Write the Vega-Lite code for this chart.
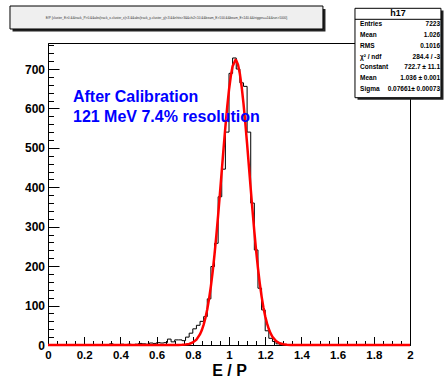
{
  "$schema": "https://vega.github.io/schema/vega-lite/v6.json",
  "width": 362,
  "height": 302,
  "autosize": {"type": "none"},
  "padding": {"left": 48, "top": 43, "right": 37, "bottom": 32},
  "background": "white",
  "config": {
    "view": {"stroke": "black", "strokeWidth": 1},
    "axis": {
      "labelFont": "Liberation Sans", "labelFontWeight": "bold", "labelFontSize": 12, "labelColor": "black",
      "titleFont": "Liberation Sans", "titleFontWeight": "bold", "titleColor": "black",
      "domainColor": "black", "tickColor": "black", "grid": false, "labelOverlap": false
    }
  },
  "layer": [
    {
      "layer": [
        {
          "data": {"values": [
            {"x":0.01,"n":0},{"x":0.03,"n":0},{"x":0.05,"n":0},{"x":0.07,"n":0},{"x":0.09,"n":0},
            {"x":0.11,"n":0},{"x":0.13,"n":1},{"x":0.15,"n":0},{"x":0.17,"n":0},{"x":0.19,"n":0},
            {"x":0.21,"n":0},{"x":0.23,"n":1},{"x":0.25,"n":0},{"x":0.27,"n":0},{"x":0.29,"n":0},
            {"x":0.31,"n":1},{"x":0.33,"n":0},{"x":0.35,"n":3},{"x":0.37,"n":1},{"x":0.39,"n":0},
            {"x":0.41,"n":2},{"x":0.43,"n":1},{"x":0.45,"n":2},{"x":0.47,"n":1},{"x":0.49,"n":2},
            {"x":0.51,"n":4},{"x":0.53,"n":3},{"x":0.55,"n":2},{"x":0.57,"n":5},{"x":0.59,"n":4},
            {"x":0.61,"n":6},{"x":0.63,"n":5},{"x":0.65,"n":6},{"x":0.67,"n":15},{"x":0.69,"n":8},
            {"x":0.71,"n":13},{"x":0.73,"n":13},{"x":0.75,"n":11},{"x":0.77,"n":20},{"x":0.79,"n":30},
            {"x":0.81,"n":41},{"x":0.83,"n":50},{"x":0.85,"n":60},{"x":0.87,"n":72},{"x":0.89,"n":117},
            {"x":0.91,"n":199},{"x":0.93,"n":258},{"x":0.95,"n":376},{"x":0.97,"n":446},{"x":0.99,"n":540},
            {"x":1.01,"n":689},{"x":1.03,"n":728},{"x":1.05,"n":700},{"x":1.07,"n":665},{"x":1.09,"n":656},
            {"x":1.11,"n":540},{"x":1.13,"n":360},{"x":1.15,"n":241},{"x":1.17,"n":144},{"x":1.19,"n":89},
            {"x":1.21,"n":36},{"x":1.23,"n":17},{"x":1.25,"n":9},{"x":1.27,"n":3},{"x":1.29,"n":1},
            {"x":1.31,"n":1},{"x":1.33,"n":0},{"x":1.35,"n":0},{"x":1.37,"n":0},{"x":1.39,"n":0},
            {"x":1.41,"n":0},{"x":1.43,"n":0},{"x":1.45,"n":0},{"x":1.47,"n":0},{"x":1.49,"n":0},
            {"x":1.51,"n":0},{"x":1.53,"n":0},{"x":1.55,"n":0},{"x":1.57,"n":0},{"x":1.59,"n":0},
            {"x":1.61,"n":0},{"x":1.63,"n":0},{"x":1.65,"n":0},{"x":1.67,"n":0},{"x":1.69,"n":0},
            {"x":1.71,"n":0},{"x":1.73,"n":0},{"x":1.75,"n":0},{"x":1.77,"n":0},{"x":1.79,"n":0},
            {"x":1.81,"n":0},{"x":1.83,"n":0},{"x":1.85,"n":0},{"x":1.87,"n":0},{"x":1.89,"n":0},
            {"x":1.91,"n":0},{"x":1.93,"n":0},{"x":1.95,"n":0},{"x":1.97,"n":0},{"x":1.99,"n":0}
          ]},
          "mark": {"type": "line", "interpolate": "step", "color": "black", "strokeWidth": 1},
          "encoding": {
            "x": {"field": "x", "type": "quantitative",
              "scale": {"domain": [0, 2], "nice": false, "zero": false},
              "axis": {"orient": "bottom", "values": [0,0.2,0.4,0.6,0.8,1,1.2,1.4,1.6,1.8,2], "format": "~g",
                "labelFlush": false, "tickSize": -8.5, "labelPadding": 12.5, "labelFontSize": 11.5,
                "title": "E / P", "titleFontSize": 16, "titleBaseline": "alphabetic", "titlePadding": 14.5}},
            "y": {"field": "n", "type": "quantitative",
              "scale": {"domain": [0, 766], "nice": false, "zero": false},
              "axis": {"orient": "left", "values": [0,100,200,300,400,500,600,700], "format": "d",
                "tickSize": -11, "labelPadding": 14.5, "title": null}}
          }
        },
        {
          "data": {"values": [
            {"x":0,"f":0},{"x":0.7,"f":0},{"x":0.72,"f":0.1},{"x":0.74,"f":0.4},{"x":0.76,"f":1.1},
            {"x":0.78,"f":2.7},{"x":0.8,"f":6.3},{"x":0.82,"f":13.6},{"x":0.84,"f":27.4},{"x":0.85,"f":37.9},
            {"x":0.86,"f":51.6},{"x":0.87,"f":69.1},{"x":0.88,"f":90.9},{"x":0.89,"f":117.6},{"x":0.9,"f":149.5},
            {"x":0.91,"f":186.9},{"x":0.92,"f":229.7},{"x":0.93,"f":277.5},{"x":0.94,"f":329.6},{"x":0.95,"f":384.9},
            {"x":0.96,"f":441.7},{"x":0.97,"f":498.6},{"x":0.98,"f":553.4},{"x":0.99,"f":603.5},{"x":1.0,"f":647.3},
            {"x":1.01,"f":682.3},{"x":1.02,"f":707.1},{"x":1.036,"f":722.7},{"x":1.04,"f":721.7},{"x":1.05,"f":710.7},
            {"x":1.06,"f":688.1},{"x":1.07,"f":654.9},{"x":1.08,"f":612.9},{"x":1.09,"f":563.7},{"x":1.1,"f":510.0},
            {"x":1.11,"f":453.3},{"x":1.12,"f":396.3},{"x":1.13,"f":340.5},{"x":1.14,"f":287.5},{"x":1.15,"f":238.9},
            {"x":1.16,"f":194.9},{"x":1.17,"f":156.5},{"x":1.18,"f":123.4},{"x":1.19,"f":95.9},{"x":1.2,"f":73.0},
            {"x":1.21,"f":54.8},{"x":1.22,"f":40.4},{"x":1.23,"f":29.3},{"x":1.24,"f":20.8},{"x":1.26,"f":10.0},
            {"x":1.28,"f":4.5},{"x":1.3,"f":1.9},{"x":1.32,"f":0.75},{"x":1.34,"f":0.3},{"x":1.36,"f":0.1},
            {"x":1.4,"f":0},{"x":2.0,"f":0}
          ]},
          "mark": {"type": "line", "color": "#ff0000", "strokeWidth": 2.5},
          "encoding": {
            "x": {"field": "x", "type": "quantitative",
              "scale": {"domain": [0, 2], "nice": false, "zero": false},
              "axis": {"orient": "bottom", "values": [0.05,0.1,0.15,0.25,0.3,0.35,0.45,0.5,0.55,0.65,0.7,0.75,0.85,0.9,0.95,1.05,1.1,1.15,1.25,1.3,1.35,1.45,1.5,1.55,1.65,1.7,1.75,1.85,1.9,1.95],
                "labels": false, "domain": false, "tickSize": -4.5, "title": null}},
            "y": {"field": "f", "type": "quantitative",
              "scale": {"domain": [0, 766], "nice": false, "zero": false},
              "axis": {"orient": "left", "values": [20,40,60,80,120,140,160,180,220,240,260,280,320,340,360,380,420,440,460,480,520,540,560,580,620,640,660,680,720,740,760],
                "labels": false, "domain": false, "tickSize": -5.5, "title": null}}
          }
        },
        {
          "data": {"values": [{"note": "After Calibration\n121 MeV 7.4% resolution"}]},
          "mark": {"type": "text", "align": "left", "baseline": "alphabetic", "lineBreak": "\n", "lineHeight": 20,
            "font": "Liberation Sans", "fontWeight": "bold", "fontSize": 16, "color": "#0000ff", "clip": false},
          "encoding": {
            "x": {"datum": 0.138, "type": "quantitative", "scale": {"domain": [0, 2], "nice": false, "zero": false}, "axis": null},
            "y": {"datum": 617, "type": "quantitative", "scale": {"domain": [0, 766], "nice": false, "zero": false}, "axis": null},
            "text": {"field": "note"}
          }
        }
      ],
      "resolve": {"axis": {"x": "independent", "y": "independent"}}
    },
    {
      "layer": [
        {
          "data": {"values": [{}]},
          "mark": {"type": "rect", "fill": "#222222", "clip": false},
          "encoding": {
            "x": {"datum": -0.196, "type": "quantitative", "scale": {"domain": [0, 2], "nice": false, "zero": false}, "axis": null},
            "x2": {"datum": 1.533},
            "y": {"datum": -0.417, "type": "quantitative", "scale": {"domain": [2.7315, 30.6945], "reverse": true, "nice": false, "zero": false}, "axis": null},
            "y2": {"datum": 1.667}
          }
        },
        {
          "data": {"values": [{}]},
          "mark": {"type": "rect", "fill": "#efefef", "stroke": "black", "strokeWidth": 1, "clip": false},
          "encoding": {
            "x": {"datum": -0.21, "type": "quantitative", "scale": {"domain": [0, 2], "nice": false, "zero": false}, "axis": null},
            "x2": {"datum": 1.519},
            "y": {"datum": -0.694, "type": "quantitative", "scale": {"domain": [2.7315, 30.6945], "reverse": true, "nice": false, "zero": false}, "axis": null},
            "y2": {"datum": 1.435}
          }
        },
        {
          "data": {"values": [{"t": "E/P {cluster_E>0.&&track_P>0.&&abs(track_x-cluster_x)<3.&&abs(track_y-cluster_y)<3.&&nhits>3&&chi2<10.&&beam_E>100.&&beam_E<140.&&trigger==1&&run>1000}"}]},
          "mark": {"type": "text", "align": "center", "baseline": "middle", "font": "Liberation Sans", "fontSize": 3.2, "color": "#333333", "clip": false},
          "encoding": {
            "x": {"datum": 0.655, "type": "quantitative", "scale": {"domain": [0, 2], "nice": false, "zero": false}, "axis": null},
            "y": {"datum": 0.37, "type": "quantitative", "scale": {"domain": [2.7315, 30.6945], "reverse": true, "nice": false, "zero": false}, "axis": null},
            "text": {"field": "t"}
          }
        },
        {
          "data": {"values": [{}]},
          "mark": {"type": "rect", "fill": "#222222", "clip": false},
          "encoding": {
            "x": {"datum": 1.71, "type": "quantitative", "scale": {"domain": [0, 2], "nice": false, "zero": false}, "axis": null},
            "x2": {"datum": 2.185},
            "y": {"datum": -0.28, "type": "quantitative", "scale": {"domain": [2.7315, 30.6945], "reverse": true, "nice": false, "zero": false}, "axis": null},
            "y2": {"datum": 7.99}
          }
        },
        {
          "data": {"values": [{}]},
          "mark": {"type": "rect", "fill": "white", "stroke": "black", "strokeWidth": 1, "clip": false},
          "encoding": {
            "x": {"datum": 1.696, "type": "quantitative", "scale": {"domain": [0, 2], "nice": false, "zero": false}, "axis": null},
            "x2": {"datum": 2.171},
            "y": {"datum": -0.481, "type": "quantitative", "scale": {"domain": [2.7315, 30.6945], "reverse": true, "nice": false, "zero": false}, "axis": null},
            "y2": {"datum": 7.796}
          }
        },
        {
          "data": {"values": [{}]},
          "mark": {"type": "rule", "color": "black", "strokeWidth": 1, "clip": false},
          "encoding": {
            "x": {"datum": 1.696, "type": "quantitative", "scale": {"domain": [0, 2], "nice": false, "zero": false}, "axis": null},
            "x2": {"datum": 2.171},
            "y": {"datum": 0.537, "type": "quantitative", "scale": {"domain": [2.7315, 30.6945], "reverse": true, "nice": false, "zero": false}, "axis": null}
          }
        },
        {
          "data": {"values": [{"h": "h17"}]},
          "mark": {"type": "text", "align": "center", "baseline": "middle", "font": "Liberation Sans", "fontWeight": "bold", "fontSize": 9, "color": "black", "clip": false},
          "encoding": {
            "x": {"datum": 1.934, "type": "quantitative", "scale": {"domain": [0, 2], "nice": false, "zero": false}, "axis": null},
            "y": {"datum": 0, "type": "quantitative", "scale": {"domain": [2.7315, 30.6945], "reverse": true, "nice": false, "zero": false}, "axis": null},
            "text": {"field": "h"}
          }
        },
        {
          "data": {"name": "stats", "values": [
            {"i": 1, "k": "Entries", "v": "7223"},
            {"i": 2, "k": "Mean", "v": "1.026"},
            {"i": 3, "k": "RMS", "v": "0.1016"},
            {"i": 4, "k": "χ² / ndf", "v": "284.4 / -3"},
            {"i": 5, "k": "Constant", "v": "722.7 ± 11.1"},
            {"i": 6, "k": "Mean", "v": "1.036 ± 0.001"},
            {"i": 7, "k": "Sigma", "v": "0.07661± 0.00073"}
          ]},
          "layer": [
            {
              "mark": {"type": "text", "align": "left", "baseline": "middle", "font": "Liberation Sans", "fontWeight": "bold", "fontSize": 6.5, "color": "black", "clip": false},
              "encoding": {
                "x": {"datum": 1.724, "type": "quantitative", "scale": {"domain": [0, 2], "nice": false, "zero": false}, "axis": null},
                "y": {"field": "i", "type": "quantitative", "scale": {"domain": [2.7315, 30.6945], "reverse": true, "nice": false, "zero": false}, "axis": null},
                "text": {"field": "k"}
              }
            },
            {
              "mark": {"type": "text", "align": "right", "baseline": "middle", "font": "Liberation Sans", "fontWeight": "bold", "fontSize": 6.5, "color": "black", "clip": false},
              "encoding": {
                "x": {"datum": 2.166, "type": "quantitative", "scale": {"domain": [0, 2], "nice": false, "zero": false}, "axis": null},
                "y": {"field": "i", "type": "quantitative", "scale": {"domain": [2.7315, 30.6945], "reverse": true, "nice": false, "zero": false}, "axis": null},
                "text": {"field": "v"}
              }
            }
          ]
        }
      ]
    }
  ],
  "resolve": {"scale": {"y": "independent"}, "axis": {"x": "independent", "y": "independent"}}
}
